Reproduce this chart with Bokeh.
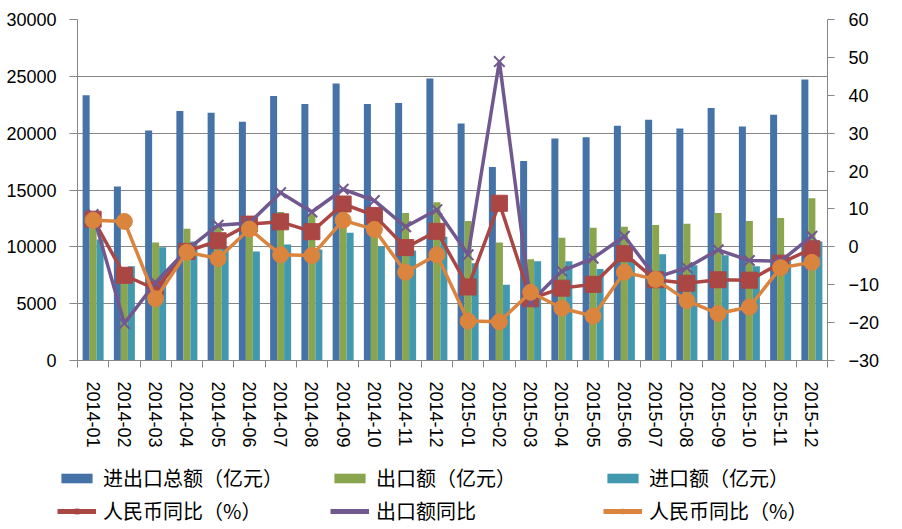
import numpy as np
from bokeh.plotting import figure
from bokeh.layouts import column
from bokeh.models import (Range1d, LinearAxis, SingleIntervalTicker, FixedTicker, Legend,
                          LegendItem, ColumnDataSource, Plot)
from bokeh.transform import dodge
from bokeh.embed import file_html
from bokeh.resources import INLINE

months = ["2014-01", "2014-02", "2014-03", "2014-04", "2014-05", "2014-06",
          "2014-07", "2014-08", "2014-09", "2014-10", "2014-11", "2014-12",
          "2015-01", "2015-02", "2015-03", "2015-04", "2015-05", "2015-06",
          "2015-07", "2015-08", "2015-09", "2015-10", "2015-11", "2015-12"]

total = [23340, 15300, 20230, 21960, 21790, 21010, 23260, 22570, 24380, 22570, 22650, 24810,
         20840, 17030, 17550, 19540, 19630, 20660, 21180, 20400, 22220, 20580, 21610, 24730]
export_amt = [12700, 7000, 10380, 11590, 11800, 11400, 13060, 12880, 13140, 12540, 12970, 13920,
              12280, 10380, 8910, 10810, 11670, 11760, 11930, 12020, 12970, 12280, 12540, 14270]
import_amt = [10640, 8300, 9970, 10460, 9990, 9600, 10200, 9770, 11240, 10030, 9680, 10890,
              8560, 6660, 8730, 8730, 8040, 8900, 9340, 8390, 9250, 8300, 9080, 10460]

rmb_yoy_1 = [7.3, -7.5, -11.2, -1.2, 1.6, 6.0, 6.6, 4.0, 11.3, 8.3, -0.2, 4.1,
             -10.6, 11.5, -13.7, -10.9, -9.9, -1.8, -8.7, -9.6, -8.7, -8.8, -4.3, -0.5]
export_yoy = [8.5, -20.2, -9.4, -0.8, 5.7, 6.3, 14.3, 9.2, 15.2, 12.2, 5.3, 9.8,
              -2.1, 48.9, -14.6, -6.4, -3.0, 2.8, -8.1, -5.5, -0.8, -3.6, -3.8, 2.8]
rmb_yoy_2 = [7.0, 6.7, -13.7, -1.4, -3.1, 4.7, -2.1, -2.3, 7.0, 4.6, -6.7, -2.1,
             -19.6, -19.8, -12.0, -16.2, -18.3, -6.7, -8.6, -14.2, -17.6, -15.9, -5.5, -4.1]

labels = ["进出口总额（亿元）", "出口额（亿元）", "进口额（亿元）",
          "人民币同比（%）", "出口额同比", "人民币同比（%）"]

C_BLUE, C_GREEN, C_TEAL = "#4572A7", "#89A54E", "#4198AF"
C_RED, C_PURPLE, C_ORANGE = "#AA4643", "#71588F", "#DB843D"
GRID = "#868686"
FONT = "Liberation Sans"

n = len(months)
xc = (np.arange(n) + 0.5).tolist()
bounds = list(range(n + 1))
src = ColumnDataSource(dict(xc=xc, month=months, total=total, exp=export_amt, imp=import_amt,
                            r1=rmb_yoy_1, ey=export_yoy, r2=rmb_yoy_2))

p = figure(width=902, height=450, x_range=Range1d(0, n),
           y_range=Range1d(0, 30000), output_backend="svg", toolbar_location=None,
           x_axis_location=None, min_border_left=77, min_border_right=75,
           min_border_top=19, min_border_bottom=84)
p.outline_line_color = None
p.background_fill_color = "white"
p.border_fill_color = "white"

# left axis
ya = p.yaxis[0]
ya.ticker = SingleIntervalTicker(interval=5000)
ya.axis_line_color = GRID
ya.major_tick_line_color = GRID
ya.major_tick_out = 8
ya.major_tick_in = 0
ya.minor_tick_line_color = None
ya.major_label_standoff = 13
ya.major_label_text_font = FONT
ya.major_label_text_font_size = "18px"
ya.major_label_text_color = "black"
p.ygrid.grid_line_color = GRID
p.xgrid.visible = False

# right axis
p.extra_y_ranges = {"pct": Range1d(-30, 60)}
ra = LinearAxis(y_range_name="pct", ticker=SingleIntervalTicker(interval=10))
ra.axis_line_color = GRID
ra.major_tick_line_color = GRID
ra.major_tick_out = 7
ra.major_tick_in = 0
ra.minor_tick_line_color = None
ra.major_label_standoff = 14
ra.major_label_text_font = FONT
ra.major_label_text_font_size = "18px"
ra.major_label_text_color = "black"
p.add_layout(ra, "right")

# bottom axis: labels at category centres, ticks at category boundaries
xa = LinearAxis(ticker=FixedTicker(ticks=xc, minor_ticks=bounds),
                major_label_overrides={x: m for x, m in zip(xc, months)})
xa.axis_line_color = GRID
xa.major_tick_line_color = None
xa.major_tick_out = 0
xa.major_tick_in = 0
xa.minor_tick_line_color = GRID
xa.minor_tick_out = 7
xa.minor_tick_in = 0
xa.major_label_orientation = "vertical"
xa.major_label_standoff = 14
xa.major_label_text_font = FONT
xa.major_label_text_font_size = "18px"
xa.major_label_text_color = "black"
p.add_layout(xa, "below")

bw = 0.224
p.vbar(x=dodge("xc", -bw), top="total", width=bw, source=src, fill_color=C_BLUE, line_color=None)
p.vbar(x=dodge("xc", 0), top="exp", width=bw, source=src, fill_color=C_GREEN, line_color=None)
p.vbar(x=dodge("xc", bw), top="imp", width=bw, source=src, fill_color=C_TEAL, line_color=None)

p.line("xc", "r1", source=src, y_range_name="pct", line_color=C_RED, line_width=3.5)
p.scatter("xc", "r1", source=src, y_range_name="pct", marker="square", size=16,
          fill_color=C_RED, line_color=C_RED)
p.line("xc", "ey", source=src, y_range_name="pct", line_color=C_PURPLE, line_width=3.5)
p.scatter("xc", "ey", source=src, y_range_name="pct", marker="x", size=15,
          line_color=C_PURPLE, line_width=2)
p.line("xc", "r2", source=src, y_range_name="pct", line_color=C_ORANGE, line_width=3.5)
p.scatter("xc", "r2", source=src, y_range_name="pct", marker="circle", size=16,
          fill_color=C_ORANGE, line_color=C_ORANGE)

# legend panel (separate figure under the chart; its own renderers lie outside its view)
q = figure(width=902, height=79, x_range=Range1d(-100, -99), y_range=Range1d(-1, 0),
           output_backend="svg", toolbar_location=None, x_axis_location=None,
           y_axis_location=None, min_border=0)
q.outline_line_color = None
q.xgrid.visible = False
q.ygrid.visible = False
if "frame_align" in Plot.properties():
    p.frame_align = False
    q.frame_align = False
lb1 = q.vbar(x="xc", top="total", width=bw, source=src, fill_color=C_BLUE, line_color=None)
lb2 = q.vbar(x="xc", top="exp", width=bw, source=src, fill_color=C_GREEN, line_color=None)
lb3 = q.vbar(x="xc", top="imp", width=bw, source=src, fill_color=C_TEAL, line_color=None)
ll1 = q.line("xc", "r1", source=src, line_color=C_RED, line_width=5)
lm1 = q.scatter("xc", "r1", source=src, marker="square", size=11, fill_color=C_RED, line_color=C_RED)
ll2 = q.line("xc", "ey", source=src, line_color=C_PURPLE, line_width=5)
lm2 = q.scatter("xc", "ey", source=src, marker="x", size=11, line_color=C_PURPLE, line_width=1)
ll3 = q.line("xc", "r2", source=src, line_color=C_ORANGE, line_width=5)
lm3 = q.scatter("xc", "r2", source=src, marker="circle", size=11, fill_color=C_ORANGE, line_color=C_ORANGE)

items = [LegendItem(label=labels[0], renderers=[lb1]),
         LegendItem(label=labels[1], renderers=[lb2]),
         LegendItem(label=labels[2], renderers=[lb3]),
         LegendItem(label=labels[3], renderers=[ll1, lm1]),
         LegendItem(label=labels[4], renderers=[ll2, lm2]),
         LegendItem(label=labels[5], renderers=[ll3, lm3])]
leg = Legend(items=items, orientation="horizontal", ncols=3, location=(57, 4))
leg.glyph_width = 39
leg.glyph_height = 12
leg.label_height = 12
leg.label_width = 223
leg.label_standoff = 7
leg.spacing = 4
leg.padding = 0
leg.margin = 0
leg.border_line_color = None
leg.background_fill_alpha = 0
leg.label_text_font = "Noto Sans CJK SC"
leg.label_text_font_size = "20px"
leg.label_text_color = "black"
q.add_layout(leg)

layout = column(p, q, spacing=0)
open("out.html", "w").write(file_html(layout, INLINE))
